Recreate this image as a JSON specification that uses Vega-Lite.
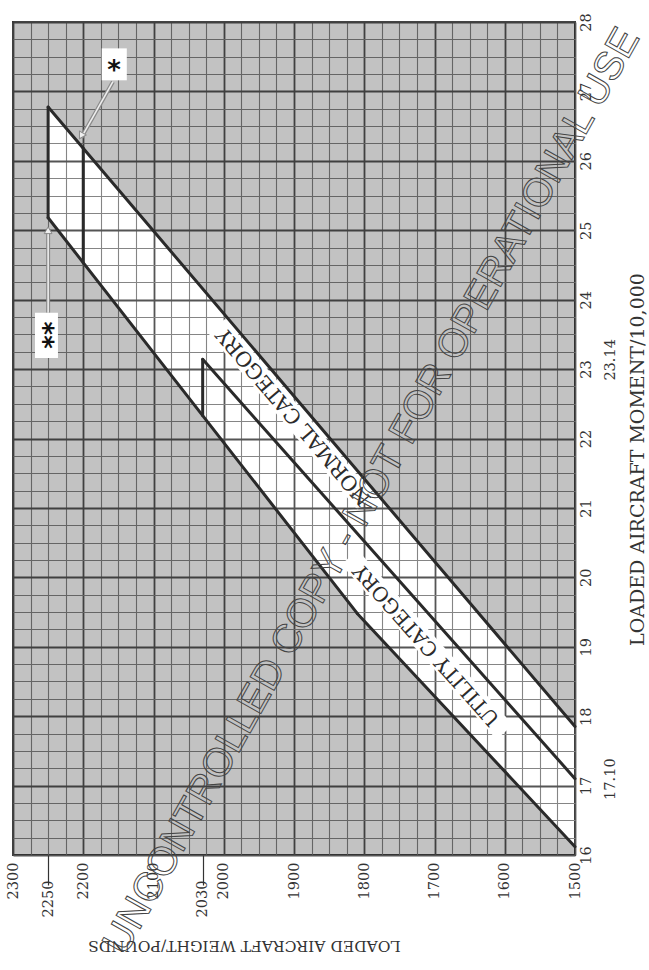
{
  "$schema": "https://vega.github.io/schema/vega-lite/v6.json",
  "width": 562,
  "height": 833,
  "autosize": {"type": "none"},
  "padding": {"left": 13, "top": 22, "right": 74, "bottom": 115},
  "background": "#ffffff",
  "config": {"view": {"fill": "#ffffff", "stroke": "#333333", "strokeWidth": 2}},
  "datasets": {
    "underA": [{"W": 1500, "M": 16, "M2": 16.12}, {"W": 1810, "M": 16, "M2": 19.48}, {"W": 2250, "M": 16, "M2": 25.18}],
    "overC": [{"W": 1500, "M": 17.85, "M2": 28}, {"W": 2250, "M": 26.775, "M2": 28}],
    "strip": [{"W": 2250, "W2": 2300, "M": 16, "M2": 28}],
    "bands": [{"W": 1600, "M": 17.77, "W2": 1821, "M2": 20.29}, {"W": 1798, "M": 21.08, "W2": 2010, "M2": 23.62}],
    "limits": [
      {"W": 1500, "M": 16.12, "W2": 1810, "M2": 19.48},
      {"W": 1810, "M": 19.48, "W2": 2250, "M2": 25.18},
      {"W": 2250, "M": 25.18, "W2": 2250, "M2": 26.775},
      {"W": 1500, "M": 17.85, "W2": 2250, "M2": 26.775},
      {"W": 1500, "M": 17.10, "W2": 2030, "M2": 23.14},
      {"W": 2030, "M": 23.14, "W2": 2030, "M2": 22.33},
      {"W": 2200, "M": 26.18, "W2": 2200, "M2": 24.53}
    ],
    "utilLabel": [{"W": 1711, "M": 19.03, "t": "UTILITY CATEGORY"}],
    "normLabel": [{"W": 1900, "M": 22.32, "t": "NORMAL CATEGORY"}],
    "arrows": [{"W": 2157.7, "M": 27.14, "W2": 2203, "M2": 26.33}, {"W": 2250, "M": 23.81, "W2": 2250, "M2": 25.02}],
    "head1": [{"W": 2203, "M": 26.36}],
    "head2": [{"W": 2250, "M": 25.0}],
    "boxes": [{"W": 2138, "W2": 2173.7, "M": 27.16, "M2": 27.62}, {"W": 2236, "W2": 2268.7, "M": 23.16, "M2": 23.81}],
    "star1": [{"W": 2156, "M": 27.39, "t": "*"}],
    "star2": [{"W": 2252.3, "M": 23.49, "t": "**"}],
    "wm": [{"W": 1789, "M": 21.24, "t": "UNCONTROLLED COPY - NOT FOR OPERATIONAL USE"}]
  },
  "encoding": {
    "x": {
      "field": "W", "type": "quantitative",
      "scale": {"domain": [1500, 2300], "reverse": true, "nice": false, "zero": false},
      "axis": {
        "orient": "bottom",
        "values": [1500,1525,1550,1575,1600,1625,1650,1675,1700,1725,1750,1775,1800,1825,1850,1875,1900,1925,1950,1975,2000,2025,2030,2050,2075,2100,2125,2150,2175,2200,2225,2250,2275,2300],
        "tickCount": 200,
        "domain": false,
        "grid": true,
        "gridColor": {"condition": {"test": "datum.value % 100 === 0", "value": "#555555"}, "value": "#858585"},
        "gridWidth": {"condition": {"test": "datum.value % 100 === 0", "value": 1.8}, "value": 1.1},
        "gridOpacity": {"condition": {"test": "datum.value === 2030", "value": 0}, "value": 1},
        "ticks": true,
        "tickColor": "#333333",
        "tickWidth": 1.2,
        "tickOpacity": {"condition": {"test": "datum.value === 2030 || datum.value === 2250", "value": 1}, "value": 0},
        "tickSize": {"condition": {"test": "datum.value === 2030 || datum.value === 2250", "value": 30}, "value": 0},
        "labelPadding": {"condition": {"test": "datum.value === 2030 || datum.value === 2250", "value": -5}, "value": 7},
        "labelExpr": "(datum.value % 100 === 0 || datum.value === 2030 || datum.value === 2250) ? format(datum.value, 'd') : ''",
        "labelAngle": 270,
        "labelAlign": "right",
        "labelBaseline": "middle",
        "labelFont": "DejaVu Serif",
        "labelFontSize": 14.5,
        "labelColor": "#333333",
        "labelOverlap": false,
        "labelFlush": false,
        "labelBound": false,
        "title": "LOADED AIRCRAFT WEIGHT/POUNDS",
        "titleAngle": 180,
        "titleFont": "DejaVu Serif",
        "titleFontSize": 15.5,
        "titleFontWeight": "normal",
        "titleColor": "#333333",
        "titleAlign": "center",
        "titleBaseline": "middle",
        "titleX": 231,
        "titleY": 90
      }
    },
    "y": {
      "field": "M", "type": "quantitative",
      "scale": {"domain": [16, 28], "nice": false, "zero": false},
      "axis": {
        "orient": "right",
        "values": [16,16.25,16.5,16.75,17,17.1,17.25,17.5,17.75,18,18.25,18.5,18.75,19,19.25,19.5,19.75,20,20.25,20.5,20.75,21,21.25,21.5,21.75,22,22.25,22.5,22.75,23,23.14,23.25,23.5,23.75,24,24.25,24.5,24.75,25,25.25,25.5,25.75,26,26.25,26.5,26.75,27,27.25,27.5,27.75,28],
        "tickCount": 200,
        "domain": false,
        "grid": true,
        "gridColor": {"condition": {"test": "datum.value % 1 === 0", "value": "#555555"}, "value": "#858585"},
        "gridWidth": {"condition": {"test": "datum.value % 1 === 0", "value": 1.8}, "value": 1.1},
        "gridOpacity": {"condition": {"test": "datum.value === 17.1 || datum.value === 23.14", "value": 0}, "value": 1},
        "ticks": true,
        "tickOpacity": 0,
        "tickSize": 0,
        "labelPadding": {"condition": {"test": "datum.value === 17.1 || datum.value === 23.14", "value": 28}, "value": 4},
        "labelExpr": "datum.value === 17.1 ? '17.10' : (datum.value === 23.14 ? '23.14' : (datum.value % 1 === 0 ? format(datum.value, 'd') : ''))",
        "labelAngle": 270,
        "labelAlign": "center",
        "labelBaseline": "top",
        "labelFont": "DejaVu Serif",
        "labelFontSize": 14.5,
        "labelColor": "#333333",
        "labelOverlap": false,
        "labelFlush": false,
        "labelBound": false,
        "title": "LOADED AIRCRAFT MOMENT/10,000",
        "titleAngle": 270,
        "titleFont": "DejaVu Serif",
        "titleFontSize": 19,
        "titleFontWeight": "normal",
        "titleColor": "#333333",
        "titleAlign": "center",
        "titleBaseline": "middle",
        "titleX": 62,
        "titleY": 437
      }
    }
  },
  "layer": [
    {"data": {"name": "underA"}, "mark": {"type": "area", "color": "#000000", "opacity": 0.24}, "encoding": {"y2": {"field": "M2"}}},
    {"data": {"name": "overC"}, "mark": {"type": "area", "color": "#000000", "opacity": 0.24}, "encoding": {"y2": {"field": "M2"}}},
    {"data": {"name": "strip"}, "mark": {"type": "rect", "color": "#000000", "opacity": 0.24}, "encoding": {"x2": {"field": "W2"}, "y2": {"field": "M2"}}},
    {"data": {"name": "bands"}, "mark": {"type": "rule", "color": "#ffffff", "strokeWidth": 22, "strokeCap": "butt"}, "encoding": {"x2": {"field": "W2"}, "y2": {"field": "M2"}}},
    {"data": {"name": "limits"}, "mark": {"type": "rule", "color": "#2a2a2a", "strokeWidth": 3, "strokeCap": "round"}, "encoding": {"x2": {"field": "W2"}, "y2": {"field": "M2"}}},
    {"data": {"name": "utilLabel"}, "mark": {"type": "text", "angle": 228.4, "font": "DejaVu Serif", "fontSize": 20, "align": "center", "baseline": "middle", "color": "#2b2b2b"}, "encoding": {"text": {"field": "t"}}},
    {"data": {"name": "normLabel"}, "mark": {"type": "text", "angle": 229.6, "font": "DejaVu Serif", "fontSize": 20.5, "align": "center", "baseline": "middle", "color": "#2b2b2b"}, "encoding": {"text": {"field": "t"}}},
    {"data": {"name": "arrows"}, "mark": {"type": "rule", "color": "#8a8a8a", "strokeWidth": 4}, "encoding": {"x2": {"field": "W2"}, "y2": {"field": "M2"}}},
    {"data": {"name": "arrows"}, "mark": {"type": "rule", "color": "#eeeeee", "strokeWidth": 1.6}, "encoding": {"x2": {"field": "W2"}, "y2": {"field": "M2"}}},
    {"data": {"name": "head1"}, "mark": {"type": "point", "shape": "triangle-up", "angle": 210, "size": 60, "filled": true, "color": "#eeeeee", "stroke": "#8a8a8a", "strokeWidth": 1, "opacity": 1}},
    {"data": {"name": "head2"}, "mark": {"type": "point", "shape": "triangle-up", "angle": 0, "size": 60, "filled": true, "color": "#eeeeee", "stroke": "#8a8a8a", "strokeWidth": 1, "opacity": 1}},
    {"data": {"name": "boxes"}, "mark": {"type": "rect", "color": "#ffffff"}, "encoding": {"x2": {"field": "W2"}, "y2": {"field": "M2"}}},
    {"data": {"name": "star1"}, "mark": {"type": "text", "font": "DejaVu Sans", "fontWeight": "bold", "fontSize": 26, "align": "center", "baseline": "middle", "dy": 7, "color": "#111111"}, "encoding": {"text": {"field": "t"}}},
    {"data": {"name": "star2"}, "mark": {"type": "text", "angle": 270, "font": "DejaVu Sans", "fontWeight": "bold", "fontSize": 26, "align": "center", "baseline": "middle", "dy": 7, "color": "#111111"}, "encoding": {"text": {"field": "t"}}},
    {"data": {"name": "wm"}, "mark": {"type": "text", "angle": 299.3, "font": "Liberation Sans", "fontSize": 40, "align": "center", "baseline": "middle", "fillOpacity": 0, "stroke": "#444444", "strokeWidth": 1}, "encoding": {"text": {"field": "t"}}}
  ]
}
